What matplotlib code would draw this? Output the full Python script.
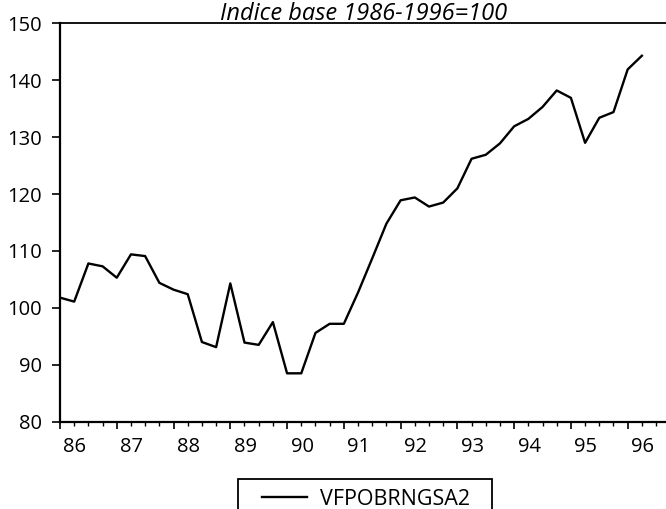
import matplotlib
matplotlib.use("Agg")
import matplotlib.pyplot as plt
from matplotlib.transforms import ScaledTranslation
from matplotlib.patches import Rectangle
from matplotlib.lines import Line2D
import numpy as np

plt.rcParams['font.family'] = ['Open Sans', 'DejaVu Sans']

title = "Indice base 1986-1996=100"
series_name = "VFPOBRNGSA2"
year_labels = ["86", "87", "88", "89", "90", "91", "92", "93", "94", "95", "96"]
# quarterly values 1986Q1 .. 1996Q2
values = [101.8, 101.1, 107.8, 107.3,
          105.3, 109.4, 109.1, 104.4,
          103.2, 102.4, 94.0, 93.1,
          104.3, 93.9, 93.5, 97.5,
          88.5, 88.5, 95.6, 97.2,
          97.2, 102.7, 108.7, 114.8,
          118.9, 119.4, 117.8, 118.5,
          121.0, 126.2, 126.9, 128.9,
          131.9, 133.2, 135.3, 138.2,
          136.9, 129.0, 133.4, 134.4,
          141.9, 144.3]
y_ticks = [80, 90, 100, 110, 120, 130, 140, 150]

W, H = 666, 509
fig = plt.figure(figsize=(W/100, H/100), dpi=100)
ax = fig.add_axes([60/W, 87.3/H, 1 - 60/W, (421.7 - 23.3)/H])

q = np.arange(len(values))
ax.plot(q, values, color='black', lw=1.7, label=series_name)

ax.set_xlim(0, 42.7)
ax.set_ylim(80, 150)
ax.set_yticks(y_ticks)
ax.set_yticklabels([str(v) for v in y_ticks])
year_pos = np.arange(len(year_labels)) * 4
ax.set_xticks(year_pos)
ax.set_xticklabels(year_labels)
ax.set_xticks(np.arange(0, 43), minor=True)

ax.spines['right'].set_visible(False)
for s in ['left', 'bottom']:
    ax.spines[s].set_linewidth(1.6)
ax.spines['top'].set_linewidth(1.3)

ax.tick_params(axis='y', direction='out', length=6, width=1.2, pad=7, labelsize=14.5)
ax.tick_params(axis='x', which='major', direction='out', length=5, width=1.2, pad=6, labelsize=14.5)
ax.tick_params(axis='x', which='minor', direction='out', length=3, width=1.0)

offset = ScaledTranslation(15/100, 0, fig.dpi_scale_trans)
for lab in ax.get_xticklabels():
    lab.set_transform(lab.get_transform() + offset)

fig.text(364/W, 1 - 20/H, title, ha='center', va='baseline',
         fontsize=17, style='italic')

# legend box (bottom part runs off the figure, as in the reference)
fig.add_artist(Rectangle((238/W, 1 - 525/H), (492 - 238)/W, (525 - 479)/H,
                         transform=fig.transFigure, facecolor='white',
                         edgecolor='black', lw=1.3, clip_on=False))
fig.add_artist(Line2D([262/W, 307/W], [1 - 497/H, 1 - 497/H],
                      transform=fig.transFigure, color='black', lw=1.7))
fig.text(320/W, 1 - 497/H, series_name, ha='left', va='center_baseline',
         fontsize=15.5)

fig.savefig("out.png", dpi=100)
